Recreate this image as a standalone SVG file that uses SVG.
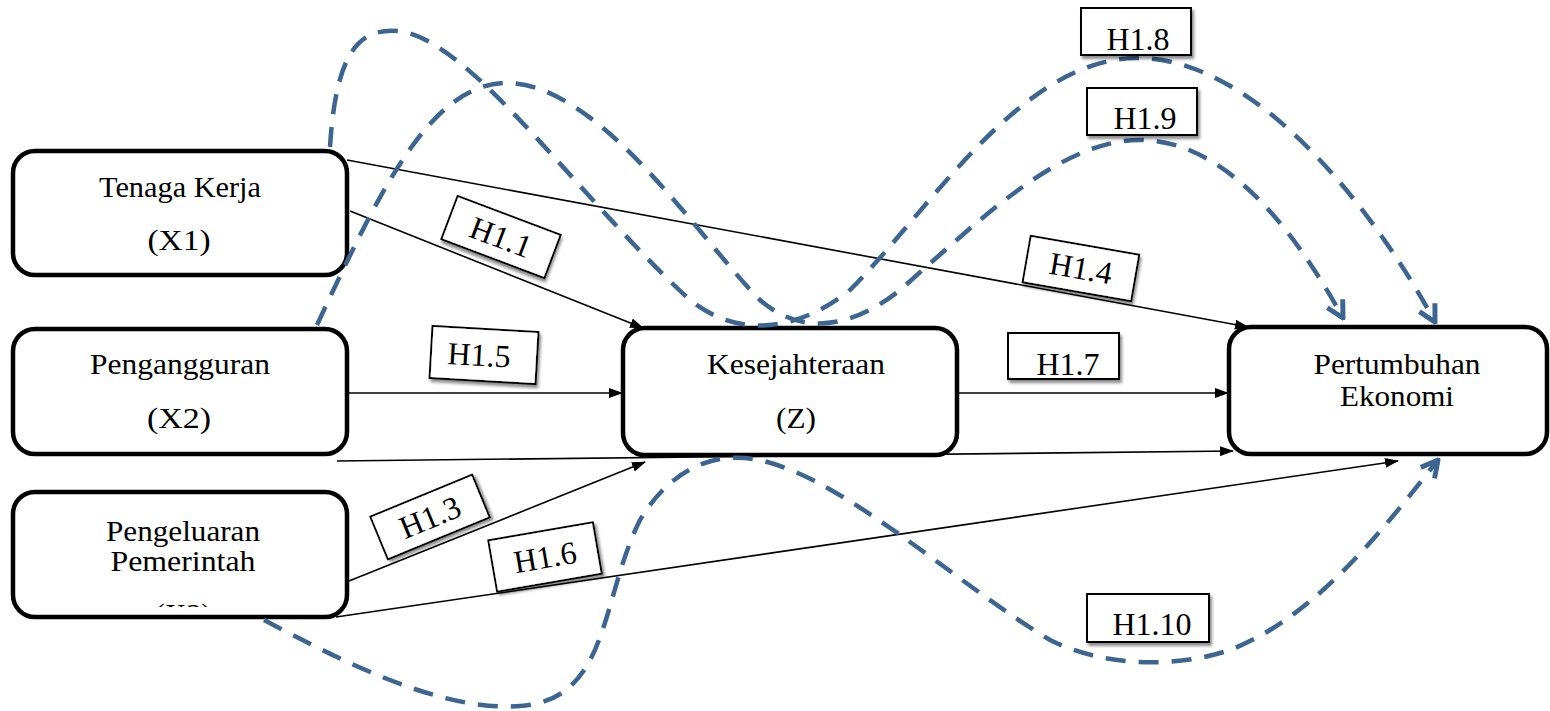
<svg xmlns="http://www.w3.org/2000/svg" width="1550" height="711" viewBox="0 0 1550 711">
<style>
.node{fill:#fff;stroke:#000;stroke-width:4.5}
.t{font-family:"Liberation Serif","Times New Roman",Times,serif;font-size:30px;fill:#000;text-anchor:middle}
.lt{font-family:"Liberation Serif","Times New Roman",Times,serif;font-size:32px;fill:#000;text-anchor:middle}
.lab{fill:#fff;stroke:#000;stroke-width:2;filter:url(#sh)}
.ln{fill:none;stroke:#000;stroke-width:1.6}
.dash{fill:none;stroke:#3d6591;stroke-width:4.5;stroke-dasharray:20 13}
</style>
<defs>
<marker id="ar" viewBox="0 0 14 10" refX="13" refY="5" markerWidth="14" markerHeight="10" markerUnits="userSpaceOnUse" orient="auto">
<path d="M0,0 L14,5 L0,10 Z" fill="#000"/>
</marker>
<marker id="da" viewBox="0 0 20 20" refX="18" refY="10" markerWidth="22" markerHeight="22" markerUnits="userSpaceOnUse" orient="auto">
<path d="M3,2 L18,10 L3,18" fill="none" stroke="#3d6591" stroke-width="4.5" stroke-dasharray="none"/>
</marker>
<filter id="sh" x="-20%" y="-20%" width="150%" height="160%">
<feDropShadow dx="2" dy="3" stdDeviation="1.5" flood-color="#000" flood-opacity="0.45"/>
</filter>
<clipPath id="c3"><rect x="15" y="494" width="330" height="113"/></clipPath>
</defs>

<g id="connectors">
<line class="ln" x1="347" y1="160" x2="1248" y2="327" marker-end="url(#ar)"/>
<line class="ln" x1="350" y1="211" x2="643" y2="328" marker-end="url(#ar)"/>
<line class="ln" x1="349" y1="393" x2="622" y2="393" marker-end="url(#ar)"/>
<line class="ln" x1="959" y1="393" x2="1228" y2="393" marker-end="url(#ar)"/>
<line class="ln" x1="337" y1="461" x2="1233" y2="451" marker-end="url(#ar)"/>
<line class="ln" x1="349" y1="581" x2="645" y2="462" marker-end="url(#ar)"/>
<line class="ln" x1="336" y1="617" x2="1398" y2="461" marker-end="url(#ar)"/>
</g>

<g id="n1"><rect class="node" x="13" y="151" width="334" height="124" rx="22"/>
<text class="t" x="180" y="197" textLength="162" lengthAdjust="spacingAndGlyphs">Tenaga Kerja</text>
<text class="t" x="179" y="250" textLength="63" lengthAdjust="spacingAndGlyphs">(X1)</text></g>
<g id="n2"><rect class="node" x="13" y="329" width="334" height="125" rx="22"/>
<text class="t" x="180" y="374" textLength="180" lengthAdjust="spacingAndGlyphs">Pengangguran</text>
<text class="t" x="179" y="428" textLength="64" lengthAdjust="spacingAndGlyphs">(X2)</text></g>
<g id="n3"><rect class="node" x="13" y="492" width="334" height="125" rx="22"/>
<text class="t" x="183" y="541" textLength="154" lengthAdjust="spacingAndGlyphs">Pengeluaran</text>
<text class="t" x="183" y="571" textLength="145" lengthAdjust="spacingAndGlyphs">Pemerintah</text>
<text class="t" x="183" y="624" clip-path="url(#c3)">(X3)</text></g>
<g id="n4"><rect class="node" x="623" y="328" width="334" height="127" rx="22"/>
<text class="t" x="796" y="374" textLength="178" lengthAdjust="spacingAndGlyphs">Kesejahteraan</text>
<text class="t" x="796" y="428" textLength="40" lengthAdjust="spacingAndGlyphs">(Z)</text></g>
<g id="n5"><rect class="node" x="1229" y="327" width="318" height="127" rx="22"/>
<text class="t" x="1397" y="374" textLength="167" lengthAdjust="spacingAndGlyphs">Pertumbuhan</text>
<text class="t" x="1397" y="406" textLength="114" lengthAdjust="spacingAndGlyphs">Ekonomi</text></g>

<g id="dashed">
<path class="dash" d="M330,147 C336,50 360,28 398,31 C470,38 580,200 690,300 C740,340 800,330 850,290 C930,210 1020,60 1135,58 C1260,56 1380,220 1435,322" marker-end="url(#da)"/>
<path class="dash" d="M317,325 C380,190 430,85 505,83 C600,82 700,240 760,300 C800,335 850,330 900,290 C980,220 1060,140 1140,140 C1230,140 1300,240 1343,318" marker-end="url(#da)"/>
<path class="dash" d="M264,620 C340,660 440,712 520,706 C610,700 600,600 640,520 C670,470 710,455 745,458 C830,465 950,580 1050,640 C1100,665 1170,670 1230,650 C1320,615 1390,520 1438,460" marker-end="url(#da)"/>
</g>

<g id="labels">
<g id="h11" transform="translate(501,237) rotate(20.7)"><rect class="lab" x="-55" y="-23" width="110" height="46"/><text class="lt" x="0" y="11">H1.1</text></g>
<g id="h13" transform="translate(430,517) rotate(-22.4)"><rect class="lab" x="-55" y="-23" width="110" height="46"/><text class="lt" x="0" y="11">H1.3</text></g>
<g id="h14" transform="translate(1081,268) rotate(9.9)"><rect class="lab" x="-55" y="-23" width="110" height="47"/><text class="lt" x="0" y="11">H1.4</text></g>
<g id="h15" transform="translate(484,355) rotate(3.3)"><rect class="lab" x="-53" y="-26" width="106" height="52"/><text class="lt" x="-5" y="11">H1.5</text></g>
<g id="h16" transform="translate(545,557) rotate(-9.8)"><rect class="lab" x="-53" y="-26" width="106" height="52"/><text class="lt" x="0" y="11">H1.6</text></g>
<g id="h17"><rect class="lab" x="1008" y="333" width="111" height="46"/><text class="lt" x="1068" y="375">H1.7</text></g>
<g id="h18"><rect class="lab" x="1081" y="8" width="110" height="47"/><text class="lt" x="1138" y="50">H1.8</text></g>
<g id="h19"><rect class="lab" x="1087" y="88" width="110" height="47"/><text class="lt" x="1145" y="129">H1.9</text></g>
<g id="h110"><rect class="lab" x="1087" y="594" width="122" height="48"/><text class="lt" x="1152" y="635">H1.10</text></g>
</g>
</svg>
